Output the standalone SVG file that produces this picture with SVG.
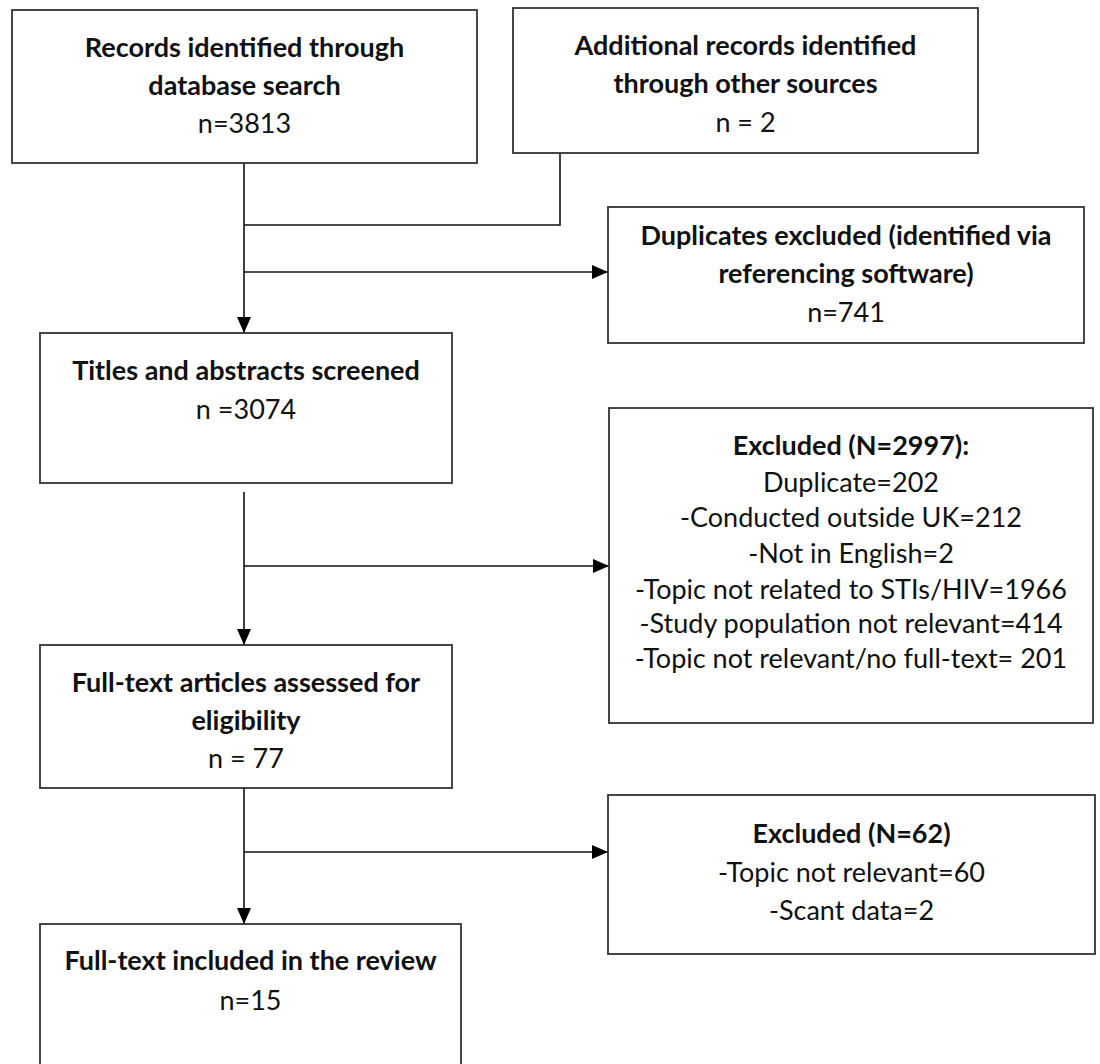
<svg xmlns="http://www.w3.org/2000/svg" width="1100" height="1064" viewBox="0 0 1100 1064">
<defs>
<style>
.box{fill:#fff;stroke:#333;stroke-width:1.8}
.t{font-family:Lato,"Open Sans","Liberation Sans",sans-serif;font-size:27px;fill:#111;text-anchor:middle}
.b{font-weight:bold}
.c{fill:none;stroke:#111;stroke-width:1.6}
</style>
<marker id="ah" markerUnits="userSpaceOnUse" markerWidth="16" markerHeight="16" viewBox="0 0 16 14" refX="16" refY="7" orient="auto">
<path d="M0,0 L16,7 L0,14 z" fill="#000"/>
</marker>
</defs>
<rect width="1100" height="1064" fill="#fff"/>
<g id="connectors">
<path class="c" d="M244,163 V333" marker-end="url(#ah)"/>
<path class="c" d="M560,153 V225 H244"/>
<path class="c" d="M244,272 H608" marker-end="url(#ah)"/>
<path class="c" d="M244,492 V645" marker-end="url(#ah)"/>
<path class="c" d="M244,566 H609" marker-end="url(#ah)"/>
<path class="c" d="M244,788 V924" marker-end="url(#ah)"/>
<path class="c" d="M244,852 H608" marker-end="url(#ah)"/>
</g>
<g id="records-db">
<rect class="box" x="12" y="10" width="465" height="153"/>
<text class="t b" x="244.5" y="57">Records identified through</text>
<text class="t b" x="244.5" y="95">database search</text>
<text class="t" x="244.5" y="133">n=3813</text>
</g>
<g id="records-other">
<rect class="box" x="513" y="8" width="465" height="145"/>
<text class="t b" x="745.5" y="55">Additional records identified</text>
<text class="t b" x="745.5" y="93">through other sources</text>
<text class="t" x="745.5" y="132">n = 2</text>
</g>
<g id="duplicates">
<rect class="box" x="608" y="207" width="476" height="136"/>
<text class="t b" x="846" y="245">Duplicates excluded (identified via</text>
<text class="t b" x="846" y="283">referencing software)</text>
<text class="t" x="846" y="322">n=741</text>
</g>
<g id="screened">
<rect class="box" x="40" y="333" width="412" height="150"/>
<text class="t b" x="246" y="380">Titles and abstracts screened</text>
<text class="t" x="246" y="419">n =3074</text>
</g>
<g id="excluded-2997">
<rect class="box" x="609" y="408" width="484" height="315"/>
<text class="t b" x="851" y="455">Excluded (N=2997):</text>
<text class="t" x="851" y="492">Duplicate=202</text>
<text class="t" x="851" y="527">-Conducted outside UK=212</text>
<text class="t" x="851" y="563">-Not in English=2</text>
<text class="t" x="851" y="599">-Topic not related to STIs/HIV=1966</text>
<text class="t" x="851" y="633">-Study population not relevant=414</text>
<text class="t" x="851" y="668">-Topic not relevant/no full-text= 201</text>
</g>
<g id="fulltext">
<rect class="box" x="40" y="645" width="412" height="143"/>
<text class="t b" x="246" y="692">Full-text articles assessed for</text>
<text class="t b" x="246" y="730">eligibility</text>
<text class="t" x="246" y="768">n = 77</text>
</g>
<g id="excluded-62">
<rect class="box" x="608" y="795" width="487" height="159"/>
<text class="t b" x="851.5" y="843">Excluded (N=62)</text>
<text class="t" x="851.5" y="882">-Topic not relevant=60</text>
<text class="t" x="851.5" y="920">-Scant data=2</text>
</g>
<g id="included">
<rect class="box" x="40" y="924" width="421" height="160"/>
<text class="t b" x="250.5" y="970">Full-text included in the review</text>
<text class="t" x="250.5" y="1010">n=15</text>
</g>
</svg>
